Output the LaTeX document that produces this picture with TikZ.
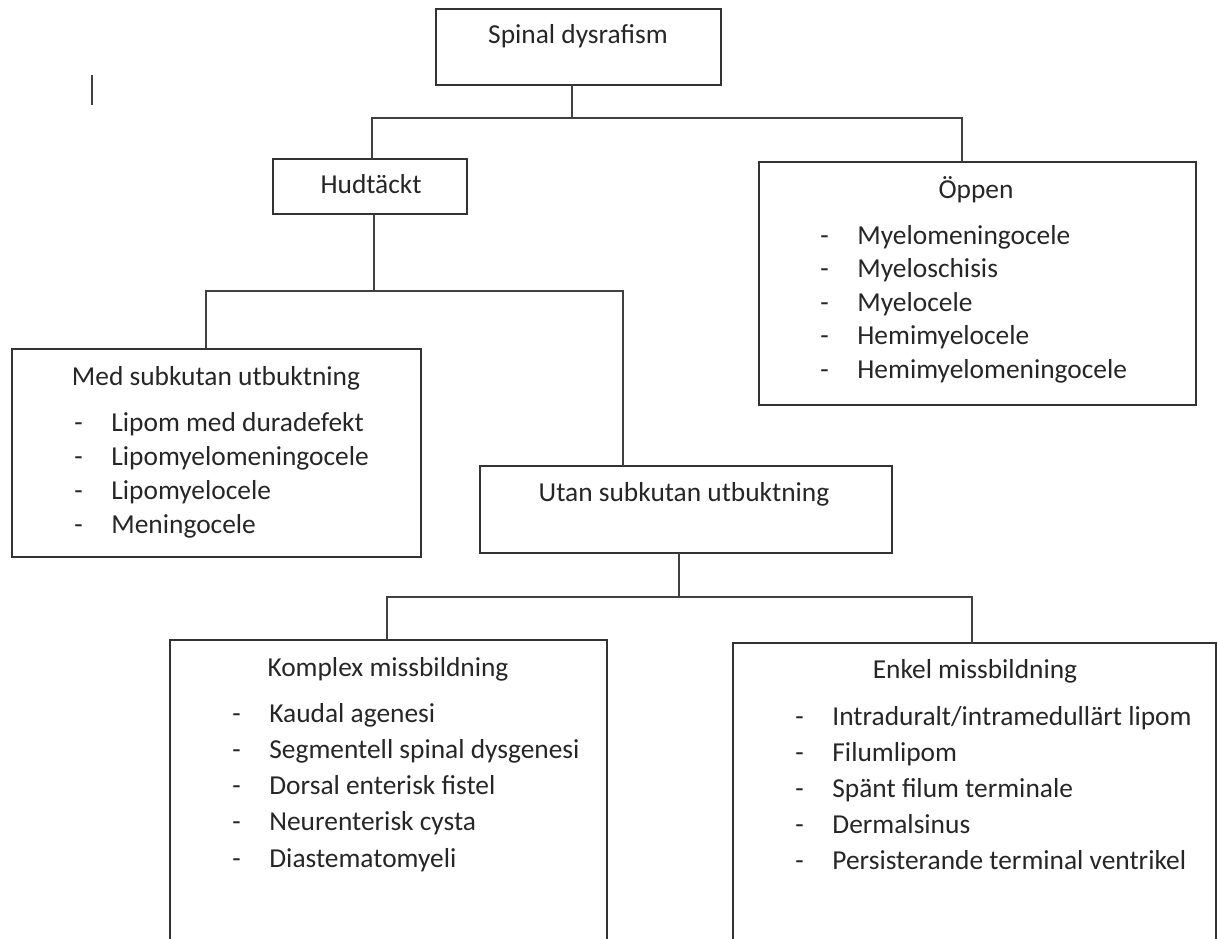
\documentclass[tikz,border=0pt]{standalone}
\usepackage{fontspec}
\setmainfont{Carlito}

\tikzset{
  box/.style={draw=black!80, line width=0.8pt, anchor=north west, inner sep=0pt, outer sep=0pt},
  title/.style={anchor=base, inner sep=0pt, text=black!85},
  items/.style={anchor=base west, align=left, inner sep=0pt, text=black!85},
  link/.style={draw=black!75, line width=0.8pt},
  every node/.append style={font=\fontsize{13.7pt}{17pt}\selectfont},
}
\newcommand{\itm}[1]{\makebox[18.5pt][l]{-}#1}

\begin{document}
\begin{tikzpicture}[x=0.5pt, y=-0.5pt]
    \useasboundingbox (0,0) rectangle (1218,938);
    \clip (0,0) rectangle (1218,938);

    %%   boxes: (name)  top left corner
    \node[box, minimum width=142.5pt, minimum height=38pt]   (sd)   at (436,9)   {};
    \node[box, minimum width=97pt,    minimum height=27.5pt] (hud)  at (273,159) {};
    \node[box, minimum width=218.5pt, minimum height=121.5pt](opp)  at (759,162) {};
    \node[box, minimum width=204.5pt, minimum height=104pt]  (med)  at (12,349)  {};
    \node[box, minimum width=206pt,   minimum height=43.5pt] (utan) at (480,466) {};
    \node[box, minimum width=218.5pt, minimum height=170pt]  (kom)  at (170,640) {};
    \node[box, minimum width=241.5pt, minimum height=170pt]  (enk)  at (733,643) {};

    %% headings
    \node[title] (sdT)   at (578,43)  {Spinal dysrafism};
    \node[title] (hudT)  at (371,193) {Hudtäckt};
    \node[title] (oppT)  at (976,198) {Öppen};
    \node[title] (medT)  at (216,385) {Med subkutan utbuktning};
    \node[title] (utanT) at (684,501) {Utan subkutan utbuktning};
    \node[title] (komT)  at (388,676) {Komplex missbildning};
    \node[title] (enkT)  at (975,678) {Enkel missbildning};

    %% lists (placed at the baseline of their last line)
    \node[items, font=\fontsize{13.7pt}{16.75pt}\selectfont] (oppL) at (820,378)
        {\itm{Myelomeningocele}\\ \itm{Myeloschisis}\\ \itm{Myelocele}\\
         \itm{Hemimyelocele}\\ \itm{Hemimyelomeningocele}};
    \node[items, font=\fontsize{13.7pt}{17pt}\selectfont] (medL) at (74,533)
        {\itm{Lipom med duradefekt}\\ \itm{Lipomyelomeningocele}\\
         \itm{Lipomyelocele}\\ \itm{Meningocele}};
    \node[items, font=\fontsize{13.7pt}{18.1pt}\selectfont] (komL) at (232,867)
        {\itm{Kaudal agenesi}\\ \itm{Segmentell spinal dysgenesi}\\
         \itm{Dorsal enterisk fistel}\\ \itm{Neurenterisk cysta}\\
         \itm{Diastematomyeli}};
    \node[items, font=\fontsize{13.7pt}{18pt}\selectfont] (enkL) at (795,869)
        {\itm{Intraduralt/intramedullärt lipom}\\ \itm{Filumlipom}\\
         \itm{Spänt filum terminale}\\ \itm{Dermalsinus}\\
         \itm{Persisterande terminal ventrikel}};

    %% connectors
    \coordinate (sdB)  at (572,118);
    \coordinate (sdL)  at (372,118);
    \coordinate (sdR)  at (962,118);
    \draw[link] (sd.south -| sdB) -- (sdB);
    \draw[link] (hud.north -| sdL) |- (sdR) -- (sdR |- opp.north);

    \coordinate (hudB) at (374,291);
    \coordinate (hudL) at (206,291);
    \coordinate (hudR) at (623,291);
    \draw[link] (hud.south -| hudB) -- (hudB);
    \draw[link] (med.north -| hudL) |- (hudR) -- (hudR |- utan.north);

    \coordinate (utB)  at (679,597);
    \coordinate (utL)  at (387,597);
    \coordinate (utR)  at (972,597);
    \draw[link] (utan.south -| utB) -- (utB);
    \draw[link] (kom.north -| utL) |- (utR) -- (utR |- enk.north);

    %% cursor mark
    \draw[link] (92,75) -- (92,105);

\end{tikzpicture}
\end{document}
